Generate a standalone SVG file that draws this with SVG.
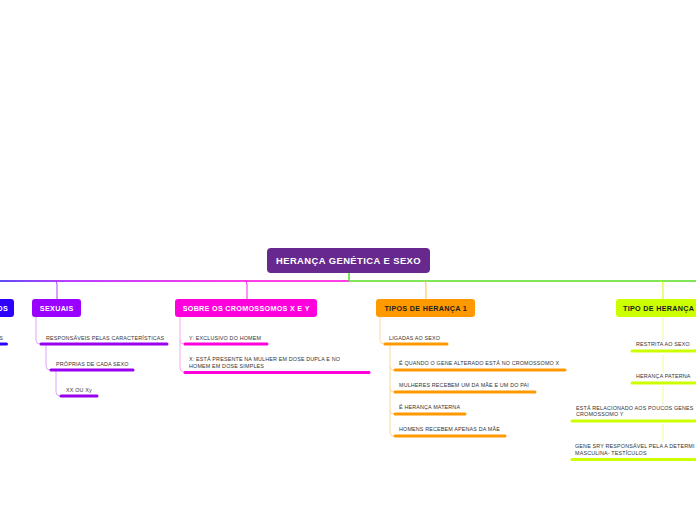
<svg xmlns="http://www.w3.org/2000/svg" width="696" height="520" viewBox="0 0 696 520">
<style>
.nt{font-family:"Liberation Sans",Arial,sans-serif;font-weight:bold;fill:#fff;text-anchor:middle;letter-spacing:0.3px}
.nd{fill:#222}
.ct{font-family:"Liberation Sans",Arial,sans-serif;font-size:5.4px;fill:#333;letter-spacing:0.15px}
.c{fill:none;stroke-width:1}
.u{fill:none;stroke-width:3;stroke-linecap:round}
</style>
<defs>
<linearGradient id="gl" x1="0" y1="0" x2="349" y2="0" gradientUnits="userSpaceOnUse">
<stop offset="0" stop-color="#2a10f0"/>
<stop offset="0.17" stop-color="#9900ff"/>
<stop offset="0.7" stop-color="#ff00dd"/>
<stop offset="1" stop-color="#ff00dd"/>
</linearGradient>
</defs>
<rect width="696" height="520" fill="#fff"/>
<g id="connectors">
<line x1="0" y1="281" x2="349" y2="281" stroke="url(#gl)" stroke-width="1.5"/>
<line x1="349" y1="281" x2="696" y2="281" stroke="#55dd22" stroke-width="1.5"/>
<line x1="349" y1="273" x2="349" y2="281" stroke="#55dd22" stroke-width="1.5"/>
<path class="c" d="M54 281 Q57 281 57 284 V299" stroke="#aa44ff" stroke-width="1.5"/>
<path class="c" d="M244 281 Q247 281 247 284 V299" stroke="#ff22ee" stroke-width="1.5"/>
<path class="c" d="M423 281 Q426 281 426 284 V299" stroke="#ffbb55" stroke-width="1.5"/>
<path class="c" d="M660 281 Q663 281 663 284 V299" stroke="#ccff00" stroke-width="1.5"/>
<path class="c" d="M36 317 V340 Q36 344 40 344" stroke="#d9a6ff"/>
<path class="c" d="M46 344 V366 Q46 370 50 370" stroke="#d9a6ff"/>
<path class="c" d="M56 370 V392 Q56 396 60 396" stroke="#d9a6ff"/>
<path class="c" d="M180 317 V368 Q180 372 184 372" stroke="#ffa6f0"/>
<path class="c" d="M180 340 Q180 344 184 344" stroke="#ffa6f0"/>
<path class="c" d="M380 317 V340 Q380 344 384 344" stroke="#ffd9a0"/>
<path class="c" d="M390 344 V432 Q390 436 394 436" stroke="#ffd9a0"/>
<path class="c" d="M390 366 Q390 370 394 370 M390 388 Q390 392 394 392 M390 410 Q390 414 394 414" stroke="#ffd9a0"/>
<path class="c" d="M663 317 V341 M663 355 V373 M663 386 V404 M663 424 V442" stroke="#eeff99"/>
</g>
<g id="n-center">
<rect x="267" y="248" width="163" height="25" rx="4" fill="#67298d"/>
<text class="nt" x="348.5" y="264.3" font-size="9.4" style="letter-spacing:0.45px">HERANÇA GENÉTICA E SEXO</text>
</g>
<g id="n-left">
<rect x="-40" y="299" width="54" height="18" rx="3" fill="#3000ff"/>
<text class="nt" x="8" y="310.6" font-size="7.2" style="text-anchor:end">OS</text>
</g>
<g id="n-left-c1">
<text class="ct" x="3" y="339.5" style="text-anchor:end">S</text>
<line class="u" x1="-2" y1="344" x2="6.5" y2="344" stroke="#3000ff" stroke-width="2.5"/>
</g>
<g id="n-sexuais">
<rect x="32" y="299" width="49" height="18" rx="3" fill="#9900ff"/>
<text class="nt" x="56.7" y="310.6" font-size="7.2">SEXUAIS</text>
</g>
<g id="n-s1">
<text class="ct" x="46" y="339.5">RESPONSÁVEIS PELAS CARACTERÍSTICAS</text>
<line class="u" x1="41" y1="344" x2="167" y2="344" stroke="#9900ee" stroke-width="2.5"/>
</g>
<g id="n-s2">
<text class="ct" x="56" y="365.5">PRÓPRIAS DE CADA SEXO</text>
<line class="u" x1="51" y1="370" x2="133" y2="370" stroke="#9900ee" stroke-width="2.5"/>
</g>
<g id="n-s3">
<text class="ct" x="66" y="391.5">XX OU Xy</text>
<line class="u" x1="61" y1="396" x2="97" y2="396" stroke="#9900ee" stroke-width="2.5"/>
</g>
<g id="n-cromo">
<rect x="175" y="299" width="142" height="18" rx="3" fill="#ff00dd"/>
<text class="nt" x="246.2" y="310.6" font-size="7.2">SOBRE OS CROMOSSOMOS X E Y</text>
</g>
<g id="n-c1">
<text class="ct" x="189" y="339.5">Y: EXCLUSIVO DO HOMEM</text>
<line class="u" x1="185" y1="344" x2="267" y2="344" stroke="#ff00dd" stroke-width="2.5"/>
</g>
<g id="n-c2">
<text class="ct" x="189" y="360.5">X: ESTÁ PRESENTE NA MULHER EM DOSE DUPLA E NO</text>
<text class="ct" x="189" y="368">HOMEM EM DOSE SIMPLES</text>
<line class="u" x1="185" y1="372.5" x2="369" y2="372.5" stroke="#ff00dd" stroke-width="2.5"/>
</g>
<g id="n-tipos1">
<rect x="376" y="299" width="99" height="18" rx="3" fill="#ff9900"/>
<text class="nt nd" x="425.7" y="310.6" font-size="7.2">TIPOS DE HERANÇA 1</text>
</g>
<g id="n-t1">
<text class="ct" x="389" y="339.5">LIGADAS AO SEXO</text>
<line class="u" x1="385" y1="344" x2="447" y2="344" stroke="#ff9900" stroke-width="2.5"/>
</g>
<g id="n-t2">
<text class="ct" x="399" y="365">É QUANDO O GENE ALTERADO ESTÁ NO CROMOSSOMO X</text>
<line class="u" x1="395" y1="370" x2="565" y2="370" stroke="#ff9900" stroke-width="2.5"/>
</g>
<g id="n-t3">
<text class="ct" x="399" y="387">MULHERES RECEBEM UM DA MÃE E UM DO PAI</text>
<line class="u" x1="395" y1="392" x2="535" y2="392" stroke="#ff9900" stroke-width="2.5"/>
</g>
<g id="n-t4">
<text class="ct" x="399" y="409">É HERANÇA MATERNA</text>
<line class="u" x1="395" y1="414" x2="465" y2="414" stroke="#ff9900" stroke-width="2.5"/>
</g>
<g id="n-t5">
<text class="ct" x="399" y="430.5">HOMENS RECEBEM APENAS DA MÃE</text>
<line class="u" x1="395" y1="436" x2="505" y2="436" stroke="#ff9900" stroke-width="2.5"/>
</g>
<g id="n-tipo">
<rect x="616" y="299" width="110" height="18" rx="3" fill="#ccff00"/>
<text class="nt nd" x="623" y="310.6" font-size="7.2" style="text-anchor:start">TIPO DE HERANÇA</text>
</g>
<g id="n-y1">
<text class="ct" x="636" y="346">RESTRITA AO SEXO</text>
<line class="u" x1="632" y1="351" x2="700" y2="351" stroke="#ccff00" stroke-width="2.5"/>
</g>
<g id="n-y2">
<text class="ct" x="636" y="378">HERANÇA PATERNA</text>
<line class="u" x1="632" y1="383" x2="700" y2="383" stroke="#ccff00" stroke-width="2.5"/>
</g>
<g id="n-y3">
<text class="ct" x="576" y="409.5">ESTÁ RELACIONADO AOS POUCOS GENES</text>
<text class="ct" x="576" y="416">CROMOSSOMO Y</text>
<line class="u" x1="572" y1="421" x2="700" y2="421" stroke="#ccff00" stroke-width="2.5"/>
</g>
<g id="n-y4">
<text class="ct" x="575" y="447.5">GENE SRY RESPONSÁVEL PELA A DETERMI</text>
<text class="ct" x="575" y="454.5">MASCULINA- TESTÍCULOS</text>
<line class="u" x1="572" y1="459.5" x2="700" y2="459.5" stroke="#ccff00" stroke-width="2.5"/>
</g>
</svg>
